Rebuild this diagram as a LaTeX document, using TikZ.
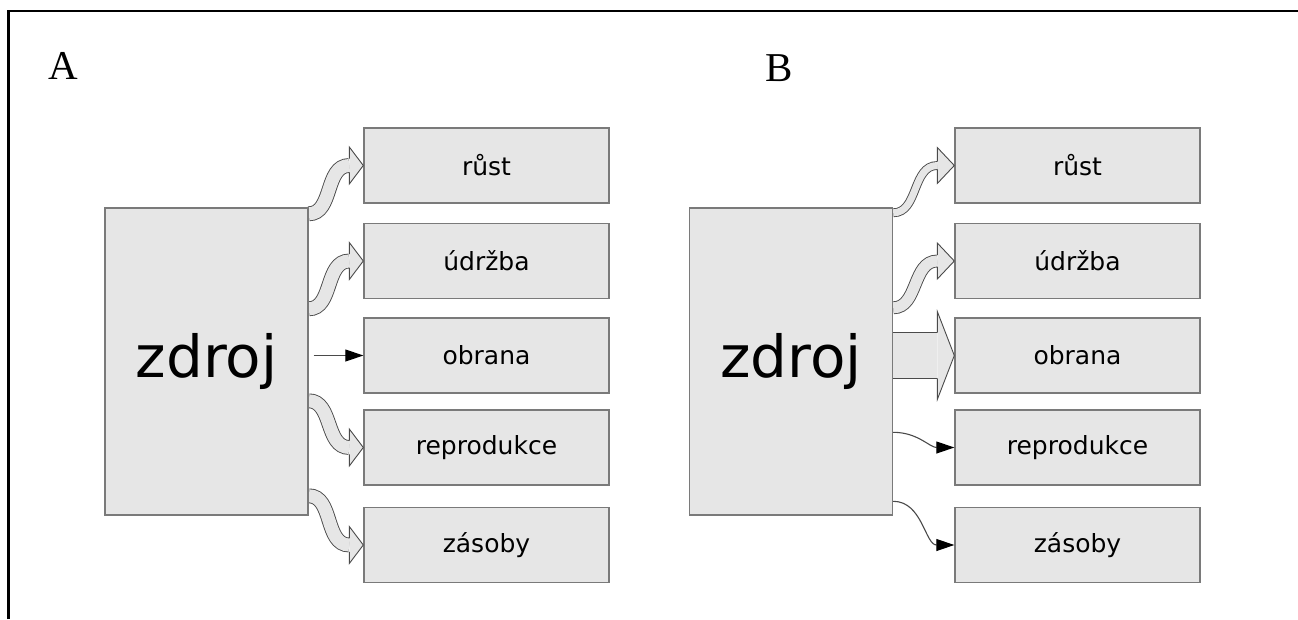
\documentclass[tikz,border=0pt]{standalone}
\usepackage{fontspec}
\setmainfont{Liberation Serif}
\newfontfamily\labelfont{DejaVu Sans}
\usetikzlibrary{arrows.meta,calc}

\definecolor{boxfill}{HTML}{E6E6E6}
\definecolor{boxline}{HTML}{7A7A7A}
\definecolor{flowline}{HTML}{4A4A4A}

\tikzset{
  srcbox/.style={draw=boxline, fill=boxfill, line width=1.4pt,
    minimum width=203pt, minimum height=307pt, inner sep=0pt,
    font=\labelfont\fontsize{58}{60}\selectfont},
  sinkbox/.style={draw=boxline, fill=boxfill, line width=1.4pt,
    minimum width=245pt, minimum height=75pt, inner sep=0pt,
    font=\labelfont\fontsize{25}{28}\selectfont},
  panel/.style={font=\fontsize{41}{44}\selectfont, inner sep=0pt, anchor=base},
  shaft/.style={draw=flowline, line width=0.9pt, double=boxfill},
  headline/.style={draw=flowline, line width=0.9pt, line join=miter},
  thinflow/.style={draw=flowline, line width=1.1pt,
    -{Triangle[length=18pt,width=12pt,color=black]}},
}

% Wavy block arrow: #1 start, #2 tip, #3 inner shaft width,
% #4 head half-width, #5 head length
\newcommand{\flowarrow}[5]{%
  \coordinate (fa-b) at ($(#2)+(-#5,0)$);
  \draw[shaft, double distance=#3pt] (#1) to[out=0,in=180] (fa-b);
  \fill[boxfill] (#2) -- ($(fa-b)+(0,-#4)$) -- ($(fa-b)+(0,#4)$) -- cycle;
  \draw[headline] ($(fa-b)+(0,-#3/2-0.45)$) -- ($(fa-b)+(0,-#4)$) -- (#2)
    -- ($(fa-b)+(0,#4)$) -- ($(fa-b)+(0,#3/2+0.45)$);
}

\begin{document}
\begin{tikzpicture}[x=1pt,y=-1pt]
  \useasboundingbox (0,0) rectangle (1298,619);

  % frame: left and top rules
  \draw[line width=2.6pt] (8.5,619) -- (8.5,11) -- (1298,11);

  % panel letters
  \node[panel] (pA) at (63.5,79) {A};
  \node[panel] (pB) at (779.5,81) {B};

  % ---------- panel A ----------
  \node[srcbox] (zA) at (206.5,361.5) {};
  \node[sinkbox] (rA) at (486.5,165.5) {růst};
  \node[sinkbox] (uA) at (486.5,261) {údržba};
  \node[sinkbox] (oA) at (486.5,355.5) {obrana};
  \node[sinkbox] (pA2) at (486.5,447.5) {reprodukce};
  \node[sinkbox] (sA) at (486.5,545) {zásoby};

  \coordinate (a1) at ($(zA.north east)+(0,6.5)$);
  \coordinate (a2) at ($(zA.north east)+(0,101.5)$);
  \coordinate (a3) at ($(zA.east |- oA.west)+(5,0)$);
  \coordinate (a4) at ($(zA.north east)+(0,193.5)$);
  \coordinate (a5) at ($(zA.north east)+(0,288.5)$);

  \flowarrow{a1}{rA.west}{13}{18.5}{14}
  \flowarrow{a2}{uA.west}{13}{18.5}{14}
  \draw[thinflow] (a3) -- (oA.west);
  \flowarrow{a4}{pA2.west}{13}{18.5}{14}
  \flowarrow{a5}{sA.west}{13}{18.5}{14}

  \node[srcbox] at (zA) {zdroj};

  % ---------- panel B ----------
  \node[srcbox] (zB) at (791,361.5) {};
  \node[sinkbox] (rB) at (1077.5,165.5) {růst};
  \node[sinkbox] (uB) at (1077.5,261) {údržba};
  \node[sinkbox] (oB) at (1077.5,355.5) {obrana};
  \node[sinkbox] (pB2) at (1077.5,447.5) {reprodukce};
  \node[sinkbox] (sB) at (1077.5,545) {zásoby};

  \coordinate (b1) at ($(zB.north east)+(0,5.5)$);
  \coordinate (b2) at ($(zB.north east)+(0,100.5)$);
  \coordinate (b3) at (zB.east |- oB.west);
  \coordinate (b4) at ($(zB.north east)+(0,225)$);
  \coordinate (b5) at ($(zB.north east)+(0,294)$);

  \flowarrow{b1}{rB.west}{7}{18}{17}
  \flowarrow{b2}{uB.west}{11}{18}{17}
  \flowarrow{b3}{oB.west}{45}{44}{17}
  \draw[thinflow] (b4) to[out=0,in=180] (pB2.west);
  \draw[thinflow] (b5) to[out=0,in=180] (sB.west);

  \node[srcbox] at (zB) {zdroj};
\end{tikzpicture}
\end{document}
